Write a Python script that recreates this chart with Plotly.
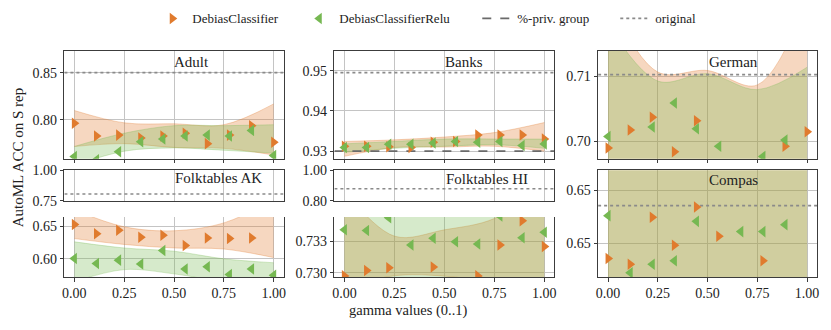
import plotly.graph_objects as go

W, H = 831, 330

ORANGE = "#e07b2e"
GREEN = "#76b852"
ORANGE_FILL = "rgba(224,123,46,0.3)"
GREEN_FILL = "rgba(118,184,82,0.3)"
TEXT = "#222222"
GRID = "#c4c4c4"
SPINE = "#3c3c3c"
FONT = "Liberation Serif"

# gamma grid used for every run
GAMMA = [0.0, 0.111, 0.222, 0.333, 0.444, 0.556, 0.667, 0.778, 0.889, 1.0]
# x positions where the confidence band edges were read
BAND_X = [0.0, 0.25, 0.5, 0.75, 1.0]

# ── mean AutoML accuracy per gamma (None = outside the shown window) ────────
ADULT_DEBIAS = [0.7966, 0.783, 0.784, 0.781, 0.783, 0.786, 0.775, 0.784, 0.794, 0.7765]
ADULT_RELU = [0.7614, 0.758, 0.7664, 0.777, 0.780, 0.783, 0.784, 0.783, 0.789, 0.7624]
BANKS_DEBIAS = [0.9312, 0.9312, 0.9311, 0.9309, 0.9322, 0.9324, 0.9340, 0.9340, 0.9340, 0.9330]
BANKS_RELU = [0.9309, 0.9309, 0.9317, 0.9317, 0.9320, 0.9324, 0.9322, 0.9324, 0.9314, 0.9318]
GERMAN_DEBIAS = [0.69897, 0.70172, 0.70368, 0.69838, 0.70314, None, None, None, 0.69922, 0.70147]
GERMAN_RELU = [0.70074, None, 0.70220, 0.70588, 0.70191, 0.69922, None, 0.69765, 0.70020, None]
AK_DEBIAS = [0.6525, 0.6385, 0.6437, 0.633, 0.636, 0.6204, 0.632, 0.631, 0.632, None]
AK_RELU = [0.6005, 0.593, 0.598, 0.592, 0.6127, 0.5845, 0.588, 0.576, 0.5845, 0.5748]
HI_DEBIAS = [0.72974, 0.73017, 0.73038, None, 0.73045, None, 0.72974, 0.73220, 0.73412, 0.73207]
HI_RELU = [0.73341, 0.73334, 0.73437, 0.73220, 0.73273, 0.73245, 0.73227, 0.73450, 0.73277, 0.73320]
COMPAS_DEBIAS = [0.64356, 0.64302, 0.64745, 0.64482, 0.64842, 0.64566, None, 0.64335, None, None]
COMPAS_RELU = [0.64761, 0.64221, 0.64302, 0.64335, 0.64707, None, 0.64610, 0.64610, 0.64676, None]

# ── band edges (lower / upper) at BAND_X ────────────────────────────────────
ADULT_DEBIAS_LO = [0.772, 0.775, 0.771, 0.770, 0.763]
ADULT_DEBIAS_HI = [0.810, 0.797, 0.796, 0.795, 0.817]
ADULT_RELU_LO = [0.752, 0.767, 0.7705, 0.768, 0.765]
ADULT_RELU_HI = [0.772, 0.786, 0.794, 0.794, 0.795]
BANKS_DEBIAS_LO = [0.9287, 0.9309, 0.9310, 0.9312, 0.9300]
BANKS_DEBIAS_HI = [0.9324, 0.9328, 0.9335, 0.9346, 0.9371]
BANKS_RELU_LO = [0.9297, 0.9307, 0.9312, 0.9316, 0.9307]
BANKS_RELU_HI = [0.9318, 0.9324, 0.9330, 0.9330, 0.9330]
GERMAN_DEBIAS_LO = [0.690, 0.692, 0.692, 0.692, 0.690]
GERMAN_DEBIAS_HI = [0.722, 0.71064, 0.71088, 0.70867, 0.722]
GERMAN_RELU_LO = [0.690, 0.692, 0.692, 0.692, 0.690]
GERMAN_RELU_HI = [0.718, 0.70926, 0.71039, 0.70794, 0.71138]
AK_DEBIAS_LO = [0.631, 0.622, 0.6166, 0.615, 0.602]
AK_DEBIAS_HI = [0.675, 0.649, 0.643, 0.655, 0.690]
AK_RELU_LO = [0.565, 0.5835, 0.577, 0.565, 0.560]
AK_RELU_HI = [0.626, 0.6166, 0.6117, 0.600, 0.594]
HI_DEBIAS_LO = [0.7288, 0.72975, 0.72972, 0.7292, 0.7285]
HI_DEBIAS_HI = [0.7365, 0.7329, 0.7334, 0.7343, 0.7370]
HI_RELU_LO = [0.7280, 0.7285, 0.7288, 0.7285, 0.7280]
HI_RELU_HI = [0.7370, 0.7365, 0.7362, 0.7365, 0.7370]
COMPAS_DEBIAS_LO = [0.635, 0.635, 0.635, 0.635, 0.635]
COMPAS_DEBIAS_HI = [0.660, 0.660, 0.660, 0.660, 0.660]
COMPAS_RELU_LO = [0.635, 0.635, 0.635, 0.635, 0.635]
COMPAS_RELU_HI = [0.660, 0.660, 0.660, 0.660, 0.660]

# reference lines
ORIGINAL = {"Adult": 0.85, "Banks": 0.9495, "German": 0.71025,
            "Folktables AK": 0.805, "Folktables HI": 0.879, "Compas": 0.64856}
PRIV_GROUP = {"Banks": 0.930}

X_TICKS = [0.0, 0.25, 0.5, 0.75, 1.0]
X_TICKTEXT = ["0.00", "0.25", "0.50", "0.75", "1.00"]

# panel layout in pixels: (x0, x1), (y0, y1) from the top-left corner
COLS = {1: (62.7, 283.0), 2: (334.0, 555.0), 3: (599.0, 819.0)}
ROWS = {"top": (46, 159), "upper": (171, 203), "lower": (220, 283), "full": (171, 283)}

# axis index -> col, row, y range, tick values, tick text, x labels?, top spine?
AXES = {
    1: dict(col=1, row="top", rng=[0.759, 0.873], tv=[0.80, 0.85], tt=["0.80", "0.85"], xl=False, top=True),
    2: dict(col=2, row="top", rng=[0.9281, 0.9549], tv=[0.93, 0.94, 0.95], tt=["0.93", "0.94", "0.95"], xl=False, top=True),
    3: dict(col=3, row="top", rng=[0.6973, 0.7139], tv=[0.70, 0.71], tt=["0.70", "0.71"], xl=False, top=True),
    4: dict(col=1, row="upper", rng=[0.75, 1.0], tv=[0.75, 1.0], tt=["0.75", "1.00"], xl=False, top=True),
    5: dict(col=1, row="lower", rng=[0.572, 0.664], tv=[0.60, 0.65], tt=["0.60", "0.65"], xl=True, top=False),
    6: dict(col=2, row="upper", rng=[0.80, 1.0], tv=[0.80, 1.0], tt=["0.80", "1.00"], xl=False, top=True),
    7: dict(col=2, row="lower", rng=[0.72964, 0.73442], tv=[0.7300, 0.7325], tt=["0.730", "0.733"], xl=True, top=False),
    8: dict(col=3, row="full", rng=[0.6418, 0.6519], tv=[0.645, 0.650], tt=["0.65", "0.65"], xl=True, top=True),
}

DATASETS = [
    dict(name="Adult", axes=[1], d=ADULT_DEBIAS, r=ADULT_RELU,
         dlo=ADULT_DEBIAS_LO, dhi=ADULT_DEBIAS_HI, rlo=ADULT_RELU_LO, rhi=ADULT_RELU_HI,
         title_xy=(190.8, 57.5)),
    dict(name="Banks", axes=[2], d=BANKS_DEBIAS, r=BANKS_RELU,
         dlo=BANKS_DEBIAS_LO, dhi=BANKS_DEBIAS_HI, rlo=BANKS_RELU_LO, rhi=BANKS_RELU_HI,
         title_xy=(464, 57.5)),
    dict(name="German", axes=[3], d=GERMAN_DEBIAS, r=GERMAN_RELU,
         dlo=GERMAN_DEBIAS_LO, dhi=GERMAN_DEBIAS_HI, rlo=GERMAN_RELU_LO, rhi=GERMAN_RELU_HI,
         title_xy=(734.7, 57.5)),
    dict(name="Folktables AK", axes=[4, 5], d=AK_DEBIAS, r=AK_RELU,
         dlo=AK_DEBIAS_LO, dhi=AK_DEBIAS_HI, rlo=AK_RELU_LO, rhi=AK_RELU_HI,
         title_xy=(218, 179.5)),
    dict(name="Folktables HI", axes=[6, 7], d=HI_DEBIAS, r=HI_RELU,
         dlo=HI_DEBIAS_LO, dhi=HI_DEBIAS_HI, rlo=HI_RELU_LO, rhi=HI_RELU_HI,
         title_xy=(487, 180)),
    dict(name="Compas", axes=[8], d=COMPAS_DEBIAS, r=COMPAS_RELU,
         dlo=COMPAS_DEBIAS_LO, dhi=COMPAS_DEBIAS_HI, rlo=COMPAS_RELU_LO, rhi=COMPAS_RELU_HI,
         title_xy=(734.7, 181)),
]


def ax_names(i):
    return ("x", "y") if i == 1 else (f"x{i}", f"y{i}")


def tfont(size):
    return dict(family=FONT, size=size, color=TEXT)


fig = go.Figure()
legend_done = set()


def add_band(i, lo, hi, fill):
    xa, ya = ax_names(i)
    edge = dict(color=fill, width=1, shape="spline")
    fig.add_trace(go.Scatter(x=BAND_X, y=lo, mode="lines", line=edge,
                             xaxis=xa, yaxis=ya, showlegend=False, hoverinfo="skip"))
    fig.add_trace(go.Scatter(x=BAND_X, y=hi, mode="lines", line=edge, fill="tonexty",
                             fillcolor=fill, xaxis=xa, yaxis=ya, showlegend=False,
                             hoverinfo="skip"))


def add_hline(i, y, name, color, dash, width, rank, lw):
    xa, ya = ax_names(i)
    show = name not in legend_done
    legend_done.add(name)
    fig.add_trace(go.Scatter(x=[-0.05, 1.05], y=[y, y], mode="lines", name=name,
                             line=dict(color=color, dash=dash, width=width),
                             xaxis=xa, yaxis=ya, showlegend=show, legendgroup=name,
                             legendrank=rank, legendwidth=lw))


for ds in DATASETS:
    for i in ds["axes"]:
        add_band(i, ds["dlo"], ds["dhi"], ORANGE_FILL)
        add_band(i, ds["rlo"], ds["rhi"], GREEN_FILL)

for ds in DATASETS:
    for i in ds["axes"]:
        if ds["name"] in PRIV_GROUP:
            add_hline(i, PRIV_GROUP[ds["name"]], "%-priv. group", "#6a6a6a", "dash", 1.8, 3, 93)
        add_hline(i, ORIGINAL[ds["name"]], "original", "#8a8a8a", "dot", 1.6, 4, 45)

for ds in DATASETS:
    for i in ds["axes"]:
        xa, ya = ax_names(i)
        for key, name, sym, color, rank, lw in [
            ("d", "DebiasClassifier", "triangle-right", ORANGE, 1, 102),
            ("r", "DebiasClassifierRelu", "triangle-left", GREEN, 2, 133),
        ]:
            show = name not in legend_done
            legend_done.add(name)
            fig.add_trace(go.Scatter(
                x=GAMMA, y=ds[key], mode="markers", name=name,
                marker=dict(symbol=sym, size=10, color=color),
                xaxis=xa, yaxis=ya, showlegend=show, legendgroup=name,
                legendrank=rank, legendwidth=lw,
            ))

layout = {}
for i, a in AXES.items():
    x0, x1 = COLS[a["col"]]
    y0, y1 = ROWS[a["row"]]
    xk = "xaxis" if i == 1 else f"xaxis{i}"
    yk = "yaxis" if i == 1 else f"yaxis{i}"
    xa, ya = ax_names(i)
    layout[xk] = dict(
        domain=[x0 / W, x1 / W], anchor=ya, range=[-0.05, 1.05],
        tickvals=X_TICKS, ticktext=X_TICKTEXT, showticklabels=a["xl"],
        ticks="outside" if a["row"] != "upper" else "", ticklen=3.5, tickcolor=SPINE,
        showgrid=True, gridcolor=GRID, gridwidth=0.8, zeroline=False,
        showline=True, linecolor=SPINE, linewidth=1.1, mirror=a["top"],
        tickfont=tfont(14),
    )
    layout[yk] = dict(
        domain=[1 - y1 / H, 1 - y0 / H], anchor=xa, range=a["rng"],
        tickvals=a["tv"], ticktext=a["tt"], ticks="outside", ticklen=3.5,
        tickcolor=SPINE, showgrid=True, gridcolor=GRID, gridwidth=0.8,
        zeroline=False, showline=True, linecolor=SPINE, linewidth=1.1, mirror=True,
        tickfont=tfont(14),
    )

annotations = []
for ds in DATASETS:
    tx, ty = ds["title_xy"]
    annotations.append(dict(text=ds["name"], x=tx / W, y=1 - ty / H, xref="paper",
                            yref="paper", showarrow=False, xanchor="center",
                            yanchor="middle", font=tfont(15)))
annotations.append(dict(text="AutoML ACC on S rep", x=15.5 / W, y=1 - 158 / H,
                        xref="paper", yref="paper", showarrow=False, textangle=-90,
                        xanchor="center", yanchor="middle", font=tfont(15)))
annotations.append(dict(text="gamma values (0..1)", x=408.5 / W, y=1 - 318 / H,
                        xref="paper", yref="paper", showarrow=False,
                        xanchor="center", yanchor="middle", font=tfont(14.5)))

fig.update_layout(
    **layout,
    annotations=annotations,
    width=W, height=H,
    margin=dict(l=0, r=0, t=0, b=0),
    paper_bgcolor="white", plot_bgcolor="white",
    font=tfont(14),
    legend=dict(orientation="h", x=151 / W, y=1 - 12 / H, xanchor="left",
                yanchor="middle", font=tfont(13),
                bgcolor="rgba(0,0,0,0)", traceorder="normal"),
)

# drop the browser's default page margin so the 831x330 figure sits at (0, 0)
fig.write_html("out.html", config={"displayModeBar": False},
               post_script="document.body.style.margin = '0';")
